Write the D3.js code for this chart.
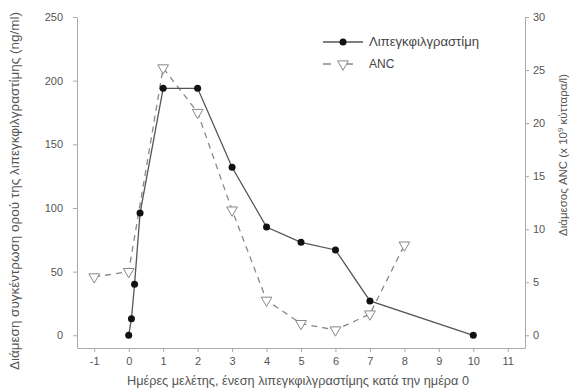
<!DOCTYPE html>
<html>
<head>
<meta charset="utf-8">
<script src="https://cdn.jsdelivr.net/npm/d3@7"></script>
<style>
  body { margin: 0; background: #fff; }
  svg { font-family: "Liberation Sans Narrow", "Arial Narrow", "Liberation Sans", sans-serif; }
</style>
</head>
<body>
<script>
// Λιπεγκφιλγραστίμη, ng/ml (αριστερός άξονας)
const lipegDays = [0, 0.08, 0.17, 0.33, 1, 2, 3, 4, 5, 6, 7, 10]
const lipegValues = [0, 13, 40, 96, 194, 194, 132, 85, 73, 67, 27, 0]

// ANC, x10^9 κύτταρα/l (δεξιός άξονας)
const ancDays = [-1, 0, 1, 2, 3, 4, 5, 6, 7, 8]
const ancValues = [5.5, 6.0, 25.2, 21.0, 11.8, 3.3, 1.1, 0.5, 2.0, 8.5]

const xTicks = [-1, 0, 1, 2, 3, 4, 5, 6, 7, 8, 9, 10, 11]
const leftTicks = [0, 50, 100, 150, 200, 250]
const rightTicks = [0, 5, 10, 15, 20, 25, 30]

const W = 584, H = 390
const padL = 77, padR = 525, padT = 17, padB = 348

const svg = d3.select("body").append("svg")
    .attr("width", W)
    .attr("height", H)

const x = d3.scaleLinear().domain([-1.5, 11.5]).range([padL, padR])
const yL = d3.scaleLinear().domain([-10, 250]).range([padB, padT])
const yR = d3.scaleLinear().domain([-1.2, 30]).range([padB, padT])

function styleAxis(g) {
    g.selectAll("path, line").attr("stroke", "#aaa")
    g.selectAll("text").attr("fill", "#555").attr("font-size", 11)
}

svg.append("g")
    .attr("transform", `translate(0,${padB})`)
    .call(d3.axisBottom(x).tickValues(xTicks).tickFormat(d => String(d)).tickSize(4).tickSizeOuter(0).tickPadding(5))
    .call(styleAxis)

svg.append("g")
    .attr("transform", `translate(${padL},0)`)
    .call(d3.axisLeft(yL).tickValues(leftTicks).tickSize(4).tickSizeOuter(0).tickPadding(10))
    .call(styleAxis)

svg.append("g")
    .attr("transform", `translate(${padR},0)`)
    .call(d3.axisRight(yR).tickValues(rightTicks).tickSize(4).tickSizeOuter(0).tickPadding(4))
    .call(styleAxis)

// ANC dashed line + triangles
const anc = ancDays.map((d, i) => [d, ancValues[i]])
svg.append("path")
    .datum(anc)
    .attr("fill", "none")
    .attr("stroke", "#888")
    .attr("stroke-width", 1.3)
    .attr("stroke-dasharray", "6,5")
    .attr("d", d3.line().x(d => x(d[0])).y(d => yR(d[1])))

const tri = d3.symbol().type(d3.symbolTriangle).size(50)
svg.append("g").selectAll("path")
    .data(anc)
    .join("path")
    .attr("d", tri)
    .attr("transform", d => `translate(${x(d[0])},${yR(d[1])}) rotate(180)`)
    .attr("fill", "#fff")
    .attr("stroke", "#888")
    .attr("stroke-width", 1)

// Lipegfilgrastim solid line + dots
const lipeg = lipegDays.map((d, i) => [d, lipegValues[i]])
svg.append("path")
    .datum(lipeg)
    .attr("fill", "none")
    .attr("stroke", "#555")
    .attr("stroke-width", 1.3)
    .attr("d", d3.line().x(d => x(d[0])).y(d => yL(d[1])))

svg.append("g").selectAll("circle")
    .data(lipeg)
    .join("circle")
    .attr("cx", d => x(d[0]))
    .attr("cy", d => yL(d[1]))
    .attr("r", 3.5)
    .attr("fill", "#111")

// legend
const lg = svg.append("g")
lg.append("line").attr("x1", 323).attr("x2", 363).attr("y1", 42).attr("y2", 42)
    .attr("stroke", "#555").attr("stroke-width", 1.3)
lg.append("circle").attr("cx", 343).attr("cy", 42).attr("r", 3.5).attr("fill", "#111")
lg.append("text").attr("x", 369).attr("y", 46).attr("font-size", 12).attr("fill", "#444")
    .attr("textLength", 110).attr("lengthAdjust", "spacingAndGlyphs")
    .text("Λιπεγκφιλγραστίμη")
lg.append("line").attr("x1", 323).attr("x2", 363).attr("y1", 64).attr("y2", 64)
    .attr("stroke", "#888").attr("stroke-width", 1.3).attr("stroke-dasharray", "8,14")
lg.append("path").attr("d", tri)
    .attr("transform", "translate(343,64) rotate(180)")
    .attr("fill", "#fff").attr("stroke", "#888")
lg.append("text").attr("x", 369).attr("y", 68).attr("font-size", 12).attr("fill", "#444")
    .text("ANC")

// axis titles
svg.append("text")
    .attr("transform", "translate(19,191) rotate(-90)")
    .attr("text-anchor", "middle")
    .attr("font-size", 12)
    .attr("fill", "#555")
    .attr("textLength", 358).attr("lengthAdjust", "spacingAndGlyphs")
    .text("Διάμεση συγκέντρωση ορού της λιπεγκφιλγραστίμης (ng/ml)")

const rt = svg.append("text")
    .attr("transform", "translate(567,155) rotate(-90)")
    .attr("text-anchor", "middle")
    .attr("font-size", 11.5)
    .attr("fill", "#555")
rt.append("tspan").text("Διάμεσος ANC (x 10")
rt.append("tspan").attr("dy", -4).attr("font-size", 8).text("9")
rt.append("tspan").attr("dy", 4).text(" κύτταρα/l)")

svg.append("text")
    .attr("x", 298)
    .attr("y", 385)
    .attr("text-anchor", "middle")
    .attr("font-size", 12)
    .attr("fill", "#555")
    .attr("textLength", 342).attr("lengthAdjust", "spacingAndGlyphs")
    .text("Ημέρες μελέτης, ένεση λιπεγκφιλγραστίμης κατά την ημέρα 0")
</script>
</body>
</html>
